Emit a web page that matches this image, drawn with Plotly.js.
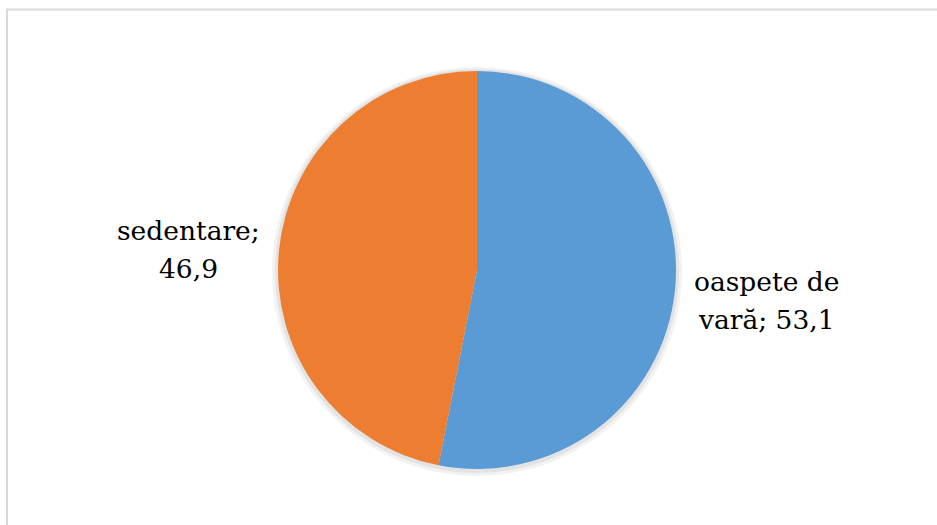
<!DOCTYPE html>
<html>
<head>
<meta charset="utf-8">
<script src="https://cdn.plot.ly/plotly-3.0.1.min.js"></script>
<style>html,body{margin:0;padding:0;background:#fff;}#chart{width:937px;height:525px;}</style>
</head>
<body>
<div id="chart"></div>
<script>
const categories = ["oaspete de vară", "sedentare"];
const values = [53.1, 46.9];
const valueLabels = ["53,1", "46,9"];
const labelLines = [["oaspete de", "vară; 53,1"], ["sedentare;", "46,9"]];
const colors = ["#5B9BD5", "#ED7D31"];

const W = 937, H = 525;
const px = x => x / W, py = y => 1 - y / H;

const trace = {
  type: "pie",
  labels: categories,
  values: values,
  sort: false,
  direction: "clockwise",
  rotation: 0,
  marker: {colors: colors, line: {width: 0}},
  textinfo: "none",
  hoverinfo: "label+value",
  showlegend: false,
  domain: {x: [px(278), px(676)], y: [py(469), py(71)]}
};

const font = {family: "DejaVu Serif", size: 26.5, color: "#000"};
const annotations = [];
const labelPos = [
  {x: 766, y: [281, 319]},
  {x: 188, y: [231, 268]}
];
labelLines.forEach((lines, i) => {
  lines.forEach((t, j) => {
    annotations.push({
      xref: "paper", yref: "paper",
      x: px(labelPos[i].x), y: py(labelPos[i].y[j]),
      xanchor: "center", yanchor: "middle",
      text: t, showarrow: false, font: font
    });
  });
});

const shapes = [
  {type: "circle", xref: "paper", yref: "paper", layer: "below",
   x0: px(272), x1: px(682), y0: py(476), y1: py(67),
   fillcolor: "rgba(0,0,0,0.05)", line: {width: 0}},
  {type: "circle", xref: "paper", yref: "paper", layer: "below",
   x0: px(275), x1: px(679), y0: py(473), y1: py(69),
   fillcolor: "rgba(0,0,0,0.06)", line: {width: 0}},
  {type: "rect", xref: "paper", yref: "paper",
   x0: px(7), x1: px(945), y0: py(535), y1: py(9.5),
   line: {color: "#d9d9d9", width: 2}, fillcolor: "rgba(0,0,0,0)"}
];

Plotly.newPlot("chart", [trace], {
  width: W, height: H,
  margin: {l: 0, r: 0, t: 0, b: 0},
  paper_bgcolor: "#fff",
  annotations: annotations,
  shapes: shapes
}, {staticPlot: true});
</script>
</body>
</html>
